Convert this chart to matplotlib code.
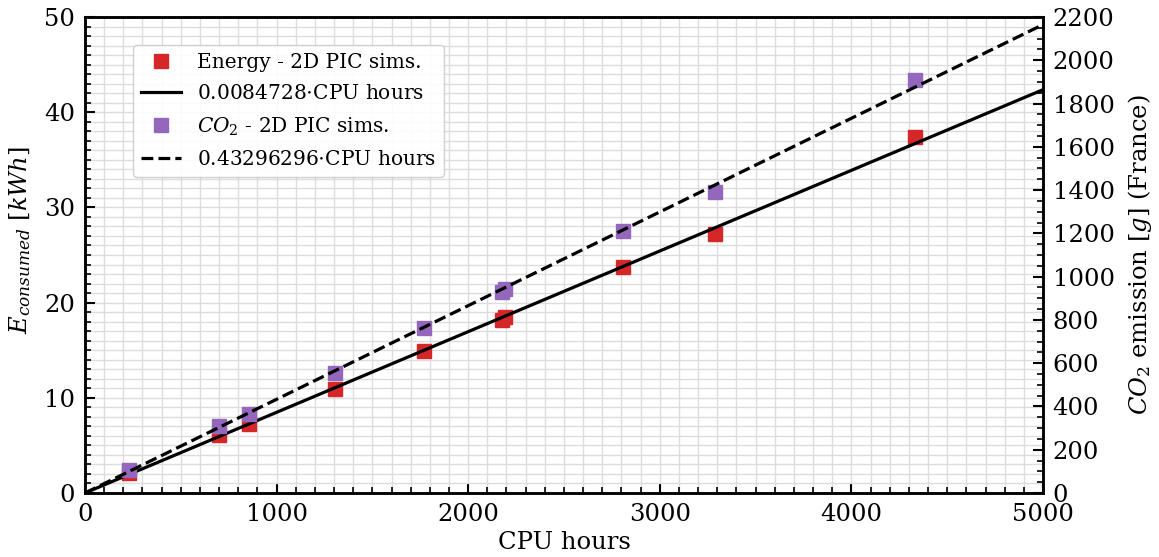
import matplotlib
matplotlib.use("Agg")
import matplotlib.pyplot as plt
import numpy as np
from matplotlib.ticker import MultipleLocator

plt.rcParams['font.family'] = 'DejaVu Serif'
plt.rcParams['mathtext.fontset'] = 'dejavuserif'

cpu_hours = [231, 701, 856, 1303, 1768, 2175, 2190, 2810, 3286, 4332]
energy_kwh = [2.13, 6.06, 7.25, 10.9, 14.95, 18.2, 18.45, 23.7, 27.2, 37.36]
co2_g = [106, 310, 365, 556, 763, 930, 945, 1211, 1391, 1909]
slope_energy = 0.0084728
slope_co2 = 0.43296296
fit_x = [0, 5000]

fig = plt.figure(figsize=(11.59, 5.57), dpi=100)
ax1 = fig.add_axes([0.0733, 0.1149, 0.8266, 0.8546])
ax2 = ax1.twinx()

red = '#d62728'
purple = '#9467bd'

fx = np.array(fit_x, dtype=float)
h1 = ax1.plot(cpu_hours, energy_kwh, 's', color=red, markersize=10, zorder=2,
              label='Energy - 2D PIC sims.')[0]
h2 = ax1.plot(fx, slope_energy * fx, '-', color='black', lw=2.3, zorder=3,
              label='0.0084728$\\cdot$CPU hours')[0]
h3 = ax2.plot(cpu_hours, co2_g, 's', color=purple, markersize=10, zorder=2,
              label='$CO_2$ - 2D PIC sims.')[0]
h4 = ax2.plot(fx, slope_co2 * fx, '--', color='black', lw=2.3, zorder=3,
              label='0.43296296$\\cdot$CPU hours')[0]

ax1.set_xlim(0, 5000)
ax1.set_ylim(0, 50)
ax2.set_ylim(0, 2200)

ax1.xaxis.set_major_locator(MultipleLocator(1000))
ax1.xaxis.set_minor_locator(MultipleLocator(100))
ax1.yaxis.set_major_locator(MultipleLocator(10))
ax1.yaxis.set_minor_locator(MultipleLocator(1))
ax2.yaxis.set_major_locator(MultipleLocator(200))
ax2.yaxis.set_minor_locator(MultipleLocator(50))

ax1.grid(True, which='both', color='#dcdcdc', lw=1, zorder=0)
ax1.set_axisbelow(True)

for ax in (ax1, ax2):
    ax.tick_params(which='major', direction='in', length=7, width=1.5,
                   labelsize=17.5, pad=7)
    ax.tick_params(which='minor', direction='in', length=4, width=1.2)
    for s in ax.spines.values():
        s.set_linewidth(1.8)

ax1.set_xlabel('CPU hours', fontsize=17.5, labelpad=4)
ax1.set_ylabel('$E_{consumed}$ $[kWh]$', fontsize=17.5)
ax1.yaxis.set_label_coords(-0.054, 0.531)
ax2.set_ylabel('$CO_2$ emission $[g]$ (France)', fontsize=17.5, labelpad=8)

leg = ax2.legend(handles=[h1, h2, h3, h4], loc='upper left',
                 bbox_to_anchor=(0.05, 0.941), borderaxespad=0, fontsize=14.5,
                 labelspacing=0.6, framealpha=0.9, edgecolor='#cccccc',
                 fancybox=True)

fig.savefig('out.png', dpi=100)
